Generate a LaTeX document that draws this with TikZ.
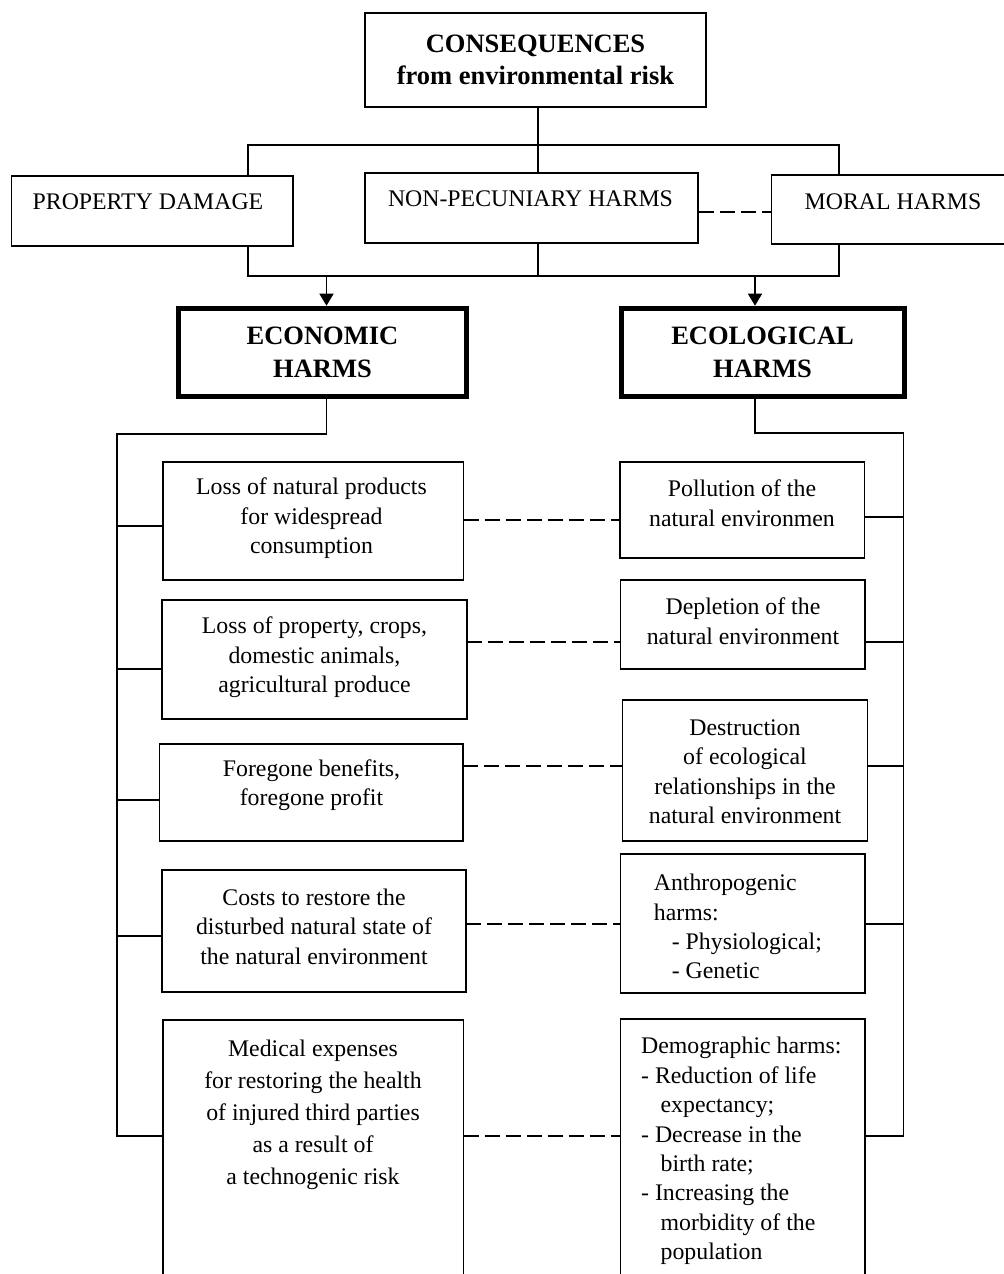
\documentclass[tikz,border=0pt]{standalone}
\usepackage{fontspec}
\setmainfont{Liberation Serif}
\usetikzlibrary{arrows.meta}
\begin{document}
\begin{tikzpicture}[x=0.5pt,y=-0.5pt,
  line width=0.85pt,
  box/.style={draw,rectangle,inner sep=0pt},
  thickbox/.style={draw,rectangle,inner sep=0pt,line width=2.5pt,align=center,font={\bfseries\fontsize{13.25}{16.15}\selectfont}},
  txt/.style={inner sep=0pt,align=center,font={\fontsize{11.9}{14.8}\selectfont}},
  txtl/.style={inner sep=0pt,align=left,anchor=west,font={\fontsize{11.9}{14.7}\selectfont}},
  dlink/.style={dash pattern=on 7.5pt off 3pt},
  arr/.style={-{Triangle[length=6pt,width=7pt]}}]
\useasboundingbox (0,0) rectangle (1004,1274);
\clip (0,0) rectangle (1004,1274);

% top level
\node[box,minimum width=170.5pt,minimum height=47pt,align=center,font={\bfseries\fontsize{13.25}{16.15}\selectfont}] (top) at (535.5,60) {CONSEQUENCES\\from environmental risk};

\node[box,minimum width=140.75pt,minimum height=34.85pt] (prop) at (152.25,210.85) {};
\node[txt] (propT) at (148,202) {PROPERTY DAMAGE};
\node[box,minimum width=166.5pt,minimum height=34.85pt] (nonpec) at (531.5,207.85) {};
\node[txt] (nonpecT) at (530.5,199) {NON-PECUNIARY HARMS};
\node[box,minimum width=134.25pt,minimum height=34.8pt] (moral) at (905.75,209.5) {};
\node[txt] (moralT) at (893,201.7) {MORAL HARMS};

% second level
\node[thickbox,minimum width=144pt,minimum height=44.15pt] (econ) at (322.5,352.35) {ECONOMIC\\HARMS};
\node[thickbox,minimum width=141.55pt,minimum height=44.15pt] (ecol) at (762.55,352.35) {ECOLOGICAL\\HARMS};

% left column
\node[box,minimum width=150.15pt,minimum height=59.15pt] (L1) at (313.45,520.85) {};
\node[txt] (L1T) at (311.5,518.3) {Loss of natural products\\for widespread\\consumption};
\node[box,minimum width=152.4pt,minimum height=59.5pt] (L2) at (314.4,659.5) {};
\node[txt] (L2T) at (314.5,657.2) {Loss of property, crops,\\domestic animals,\\agricultural produce};
\node[box,minimum width=151.8pt,minimum height=48.35pt] (L3) at (311.2,792.35) {};
\node[txt] (L3T) at (311.5,785.3) {Foregone benefits,\\foregone profit};
\node[box,minimum width=152pt,minimum height=61pt] (L4) at (314,931.3) {};
\node[txt] (L4T) at (314,926.7) {Costs to restore the\\disturbed natural state of\\the natural environment};
\node[box,minimum width=150.15pt,minimum height=150pt] (L5) at (313.45,1170) {};
\node[txt,font={\fontsize{11.9}{16}\selectfont}] (L5T) at (313,1115) {Medical expenses\\for restoring the health\\of injured third parties\\as a result of\\a technogenic risk};

% right column
\node[box,minimum width=122.3pt,minimum height=47.7pt] (R1) at (742.1,510) {};
\node[txt] (R1T) at (742,503) {Pollution of the\\natural environmen};
\node[box,minimum width=122.3pt,minimum height=44.65pt] (R2) at (742.7,624.65) {};
\node[txt] (R2T) at (743,621) {Depletion of the\\natural environment};
\node[box,minimum width=122.6pt,minimum height=70.35pt] (R3) at (745,770.65) {};
\node[txt] (R3T) at (745,771.8) {Destruction\\of ecological\\relationships in the\\natural environment};
\node[box,minimum width=122.3pt,minimum height=69.8pt] (R4) at (742.7,923.5) {};
\node[txtl] (R4T) at (653,926.7) {Anthropogenic\\harms:\\\hspace*{9pt}- Physiological;\\\hspace*{9pt}- Genetic};
\node[box,minimum width=122.3pt,minimum height=150.35pt] (R5) at (742.7,1169.65) {};
\node[txtl] (R5T) at (640.3,1151) {Demographic harms:\\- Reduction of life\\\hspace*{9.75pt}expectancy;\\- Decrease in the\\\hspace*{9.75pt}birth rate;\\- Increasing the\\\hspace*{9.75pt}morbidity of the\\\hspace*{9.75pt}population};

% coordinates of the connector system
\coordinate (vj) at (538,145);
\coordinate (pL) at (248,145);
\coordinate (pR) at (839,145);
\coordinate (qL) at (248,276);
\coordinate (qR) at (839,276);
\coordinate (a1) at (326.5,276);
\coordinate (a2) at (755,276);
\coordinate (eL) at (117,434.3);
\coordinate (eLb) at (117,1135.7);
\coordinate (eR) at (903.5,433.3);
\coordinate (eRb) at (903.5,1135.7);

% top tree
\draw (vj |- top.south) -- (vj |- nonpec.north);
\draw (pL |- prop.north) -- (pL) -- (pR) -- (pR |- moral.north);
\draw (pL |- prop.south) -- (qL) -- (qR) -- (qR |- moral.south);
\draw (vj |- nonpec.south) -- (vj |- qL);
\draw[dlink] (nonpec.east |- 0,211.7) coordinate (dm) -- (dm -| moral.west);

% arrows
\draw[arr] (a1) -- (a1 |- econ.north);
\draw[arr] (a2) -- (a2 |- ecol.north);

% left bus
\draw (a1 |- econ.south) -- (a1 |- eL) -- (eL) -- (eLb) -- (eLb -| L5.west);
\coordinate (c1) at (117,526);
\coordinate (c2) at (117,668.7);
\coordinate (c3) at (117,800);
\coordinate (c4) at (117,936);
\draw (c1) -- (c1 -| L1.west);
\draw (c2) -- (c2 -| L2.west);
\draw (c3) -- (c3 -| L3.west);
\draw (c4) -- (c4 -| L4.west);

% right bus
\draw (a2 |- ecol.south) -- (a2 |- eR) -- (eR) -- (eRb) -- (eRb -| R5.east);
\coordinate (r1) at (903.5,516.7);
\coordinate (r2) at (903.5,641.7);
\coordinate (r3) at (903.5,766);
\coordinate (r4) at (903.5,924.3);
\draw (r1) -- (r1 -| R1.east);
\draw (r2) -- (r2 -| R2.east);
\draw (r3) -- (r3 -| R3.east);
\draw (r4) -- (r4 -| R4.east);

% dashed links
\coordinate (d1) at (463.6,520);
\coordinate (d2) at (466.8,641.7);
\coordinate (d3) at (463,766);
\coordinate (d4) at (466,924.3);
\coordinate (d5) at (463.6,1135.7);
\draw[dlink] (d1) -- (d1 -| R1.west);
\draw[dlink] (d2) -- (d2 -| R2.west);
\draw[dlink] (d3) -- (d3 -| R3.west);
\draw[dlink] (d4) -- (d4 -| R4.west);
\draw[dlink] (d5) -- (d5 -| R5.west);
\end{tikzpicture}
\end{document}
